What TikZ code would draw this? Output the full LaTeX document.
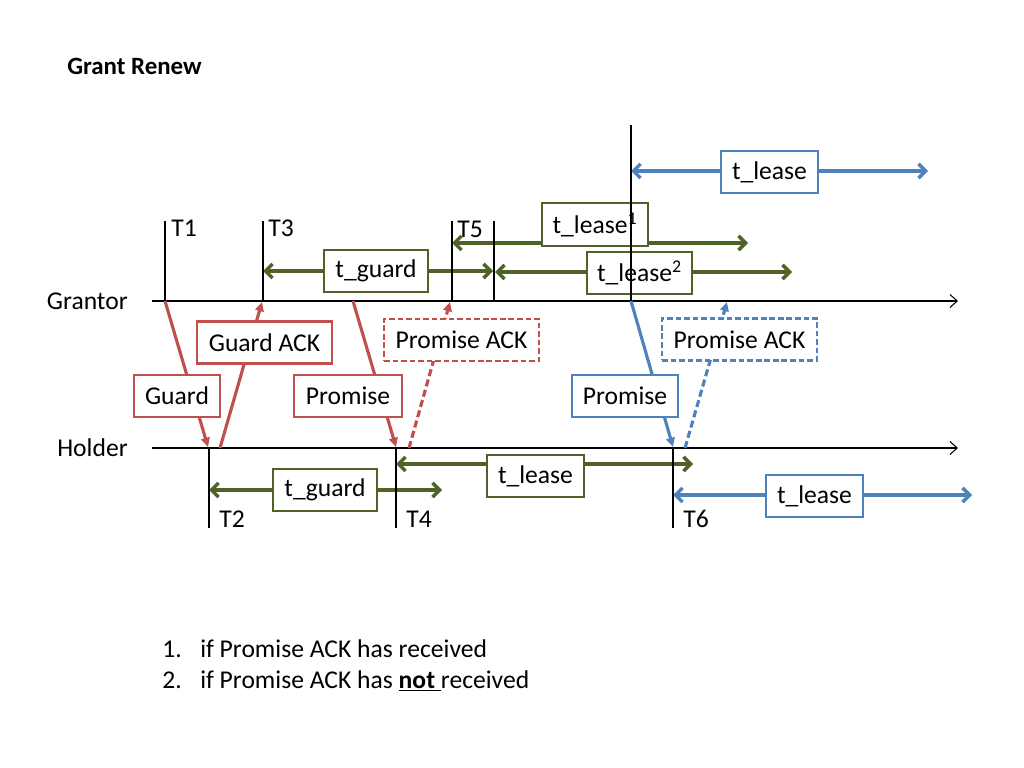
\documentclass[tikz,border=0pt]{standalone}
\usepackage{fontspec}
\setmainfont{Carlito}
\usetikzlibrary{arrows.meta}
\definecolor{cred}{HTML}{C0504D}
\definecolor{cblue}{HTML}{4F81BD}
\definecolor{cgreen}{HTML}{4F6228}
\begin{document}
\begin{tikzpicture}[x=0.703125pt,y=-0.703125pt,
  every node/.style={font=\fontsize{18}{21.6}\selectfont, inner sep=0pt},
  axis/.style={line width=0.75pt, -{Straight Barb[length=5pt,width=9pt,line width=0.75pt]}},
  tick/.style={line width=0.75pt},
  dur/.style={line width=2.4pt, {Straight Barb[length=5pt,width=10pt]}-{Straight Barb[length=5pt,width=10pt]}},
  msg/.style={line width=2.2pt, -{Triangle[length=6.5pt,width=6pt]}},
  dmsg/.style={msg, dash pattern=on 5pt off 2.5pt},
  box/.style={draw, fill=white, text=black, line width=1.8pt, minimum height=29.5pt},
  dbox/.style={box, dash pattern=on 4pt off 2pt},
  lbl/.style={anchor=mid west}
]
\useasboundingbox (0,0) rectangle (1024,768);

% title
\node[lbl, font=\fontsize{17.5}{20}\bfseries] (title) at (67,71) {Grant Renew};

% axes
\coordinate (gs) at (152,301); \coordinate (ge) at (958,301);
\coordinate (hs) at (152,448); \coordinate (he) at (958,448);
\draw[axis] (gs) -- (ge);
\draw[axis] (hs) -- (he);
\node[anchor=mid east] (grantor) at (128,306) {Grantor};
\node[anchor=mid east] (holder) at (128,453) {Holder};

% duration arrows
\coordinate (d1a) at (631,171); \coordinate (d1b) at (928,171);
\coordinate (d2a) at (452,243); \coordinate (d2b) at (748,243);
\coordinate (d3a) at (495,272); \coordinate (d3b) at (792,272);
\coordinate (d4a) at (263,271); \coordinate (d4b) at (493,271);
\coordinate (d5a) at (209,490); \coordinate (d5b) at (442,490);
\coordinate (d6a) at (396,464); \coordinate (d6b) at (693,464);
\coordinate (d7a) at (673,495); \coordinate (d7b) at (972,495);
\draw[dur, cblue] (d1a) -- (d1b);
\draw[dur, cgreen] (d2a) -- (d2b);
\draw[dur, cgreen] (d3a) -- (d3b);
\draw[dur, cgreen] (d4a) -- (d4b);
\draw[dur, cgreen] (d5a) -- (d5b);
\draw[dur, cgreen] (d6a) -- (d6b);
\draw[dur, cblue] (d7a) -- (d7b);

% grantor ticks
\coordinate (t1a) at (165,221); \coordinate (t1b) at (165,301);
\coordinate (t3a) at (263,221); \coordinate (t3b) at (263,301);
\coordinate (t5a) at (452,221); \coordinate (t5b) at (452,301);
\coordinate (txa) at (494,221); \coordinate (txb) at (494,301);
\coordinate (tla) at (631,125); \coordinate (tlb) at (631,301);
\draw[tick] (t1a) -- (t1b);
\draw[tick] (t3a) -- (t3b);
\draw[tick] (t5a) -- (t5b);
\draw[tick] (txa) -- (txb);
\node[lbl] (T1) at (171,233) {T1};
\node[lbl] (T3) at (268,233) {T3};
\node[lbl] (T5) at (457,234) {T5};

% holder ticks
\coordinate (t2a) at (209,448); \coordinate (t2b) at (209,528);
\coordinate (t4a) at (396,448); \coordinate (t4b) at (396,528);
\coordinate (t6a) at (673,448); \coordinate (t6b) at (673,528);
\draw[tick] (t2a) -- (t2b);
\draw[tick] (t4a) -- (t4b);
\draw[tick] (t6a) -- (t6b);
\node[lbl] (T2) at (219,524) {T2};
\node[lbl] (T4) at (406,524) {T4};
\node[lbl] (T6) at (683,524) {T6};

% messages
\coordinate (m1a) at (165,301); \coordinate (m1b) at (208,447);
\coordinate (m2a) at (220,448); \coordinate (m2b) at (262,302);
\coordinate (m3a) at (353,301); \coordinate (m3b) at (396,447);
\coordinate (m4a) at (409,448); \coordinate (m4b) at (450,302);
\coordinate (m5a) at (631,301); \coordinate (m5b) at (673,447);
\coordinate (m6a) at (685,448); \coordinate (m6b) at (727,302);
\draw[msg, cred] (m1a) -- (m1b);
\draw[msg, cred] (m2a) -- (m2b);
\draw[msg, cred] (m3a) -- (m3b);
\draw[dmsg, cred] (m4a) -- (m4b);
\draw[msg, cblue] (m5a) -- (m5b);
\draw[dmsg, cblue] (m6a) -- (m6b);

% duration boxes
\node[box, draw=cblue, minimum width=68pt] (bl1) at (769.5,172) {t\_lease};
\node[box, draw=cgreen, minimum width=74.5pt, minimum height=30pt] (bl2) at (595,224.5) {t\_lease\textsuperscript{1}};
\node[box, draw=cgreen, minimum width=74pt] (bl3) at (639.5,273) {t\_lease\textsuperscript{2}};
\node[box, draw=cgreen, minimum width=73pt] (bg1) at (376,271) {t\_guard};
\node[box, draw=cgreen, minimum width=73pt] (bg2) at (325,490) {t\_guard};
\node[box, draw=cgreen, minimum width=68pt] (bl4) at (535.5,476) {t\_lease};
\node[box, draw=cblue, minimum width=68pt] (bl5) at (814.5,496) {t\_lease};

% long lease line on top of the boxes
\draw[tick] (tla) -- (tlb);

% message boxes
\node[box, draw=cred, minimum width=60.5pt] (mg) at (177,396) {Guard};
\node[box, draw=cred, minimum width=95pt] (mga) at (264.5,342.5) {Guard ACK};
\node[box, draw=cred, minimum width=76pt] (mp) at (348,396) {Promise};
\node[dbox, draw=cred, minimum width=109pt] (mpa) at (461.5,340) {Promise ACK};
\node[box, draw=cblue, minimum width=74.5pt] (mbp) at (625,396) {Promise};
\node[dbox, draw=cblue, minimum width=109pt] (mbpa) at (739.5,339.5) {Promise ACK};

% notes
\node[lbl] (n1) at (162,654) {1.};
\node[lbl] (n1t) at (200,654) {if Promise ACK has received};
\node[lbl] (n2) at (162,685) {2.};
\node[lbl] (n2t) at (200,685) {if Promise ACK has \underline{\textbf{not}\ }received};
\end{tikzpicture}
\end{document}
